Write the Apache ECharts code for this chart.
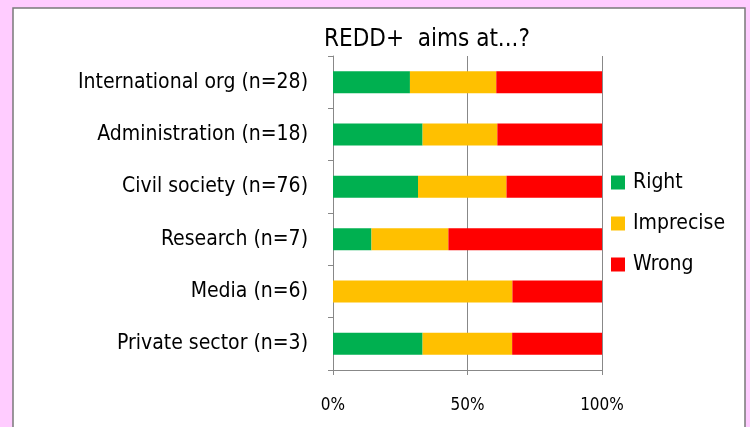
<!DOCTYPE html>
<html><head><meta charset="utf-8">
<script src="https://cdn.jsdelivr.net/npm/echarts@6/dist/echarts.min.js"></script>
<style>html,body{margin:0;padding:0;background:#FFCCFF;}#c{width:750px;height:427px;}</style>
</head><body><div id="c"></div>
<script>
var categories = ['International org (n=28)','Administration (n=18)','Civil society (n=76)','Research (n=7)','Media (n=6)','Private sector (n=3)'];
var rightPct = [28.6, 33.3, 31.6, 14.3, 0, 33.3];
var imprecisePct = [32.1, 27.8, 32.9, 28.6, 66.7, 33.3];
var wrongPct = [39.3, 38.9, 35.5, 57.1, 33.3, 33.4];
var xTicks = [0, 50, 100];
var FONT = '"Liberation Sans Narrow", "DejaVu Sans Condensed", sans-serif';
var chart = echarts.init(document.getElementById('c'));
chart.setOption({
  backgroundColor: '#FFCCFF',
  textStyle: {fontFamily: FONT},
  graphic: [{type:'rect', z:-10, shape:{x:13, y:8, width:732, height:430}, style:{fill:'#fff', stroke:'#7a7a7a', lineWidth:1.5}}],
  title: {text: 'REDD+  aims at...?', left: 422, top: 23, textAlign:'center', textStyle:{fontFamily:FONT, fontSize:24, fontWeight:'normal', color:'#000'}},
  legend: {orient:'vertical', left:606, top:167, itemWidth:14, itemHeight:14, itemGap:20, icon:'rect',
    textStyle:{fontFamily:FONT, fontSize:21, color:'#000', padding:[0,0,0,3]}, data:['Right','Imprecise','Wrong']},
  grid: {left:333, right:148, top:56, bottom:57, containLabel:false},
  xAxis: {type:'value', min:0, max:100, interval:50,
    axisLabel:{formatter:function(v){return xTicks.indexOf(v)>=0? v+'%':'';}, fontSize:17, color:'#000', margin:27, fontFamily:FONT},
    axisLine:{show:true, lineStyle:{color:'#888'}}, axisTick:{show:true, length:5, lineStyle:{color:'#888'}},
    splitLine:{show:true, lineStyle:{color:'#888'}}},
  yAxis: {type:'category', inverse:true, data:categories,
    axisLabel:{fontSize:21, color:'#000', margin:25, fontFamily:FONT},
    axisLine:{show:true, lineStyle:{color:'#888'}}, axisTick:{show:true, length:5, lineStyle:{color:'#888'}}},
  series: [
    {name:'Right', type:'bar', stack:'a', barWidth:22, data:rightPct, itemStyle:{color:'#00B050'}},
    {name:'Imprecise', type:'bar', stack:'a', barWidth:22, data:imprecisePct, itemStyle:{color:'#FFC000'}},
    {name:'Wrong', type:'bar', stack:'a', barWidth:22, data:wrongPct, itemStyle:{color:'#FF0000'}}
  ]
});
</script></body></html>
